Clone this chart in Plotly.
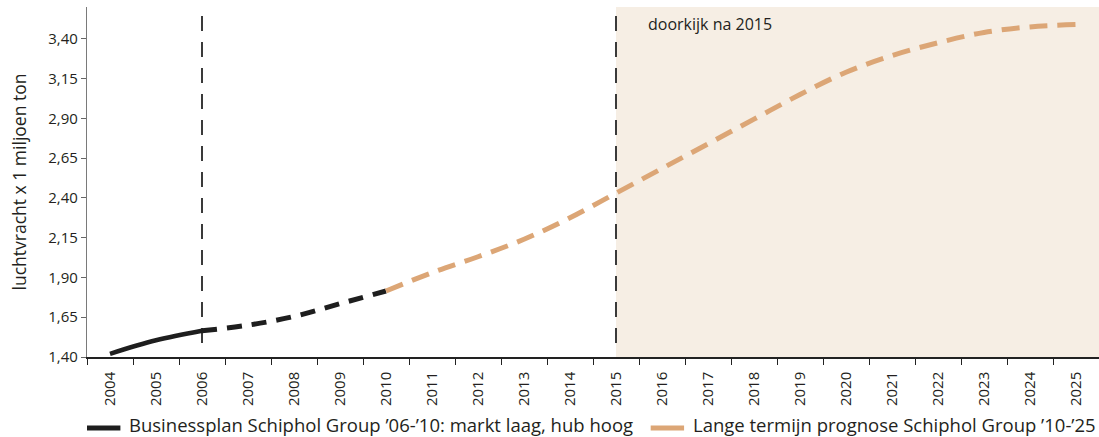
import plotly.graph_objects as go

# Air freight at Schiphol, million tonnes
years_actual = [2004, 2005, 2006]
vals_actual = [1.42, 1.505, 1.565]

years_plan = [2006, 2007, 2008, 2009, 2010]
vals_plan = [1.565, 1.60, 1.655, 1.735, 1.815]

years_long = [2010, 2011, 2012, 2013, 2014, 2015, 2016, 2017,
              2018, 2019, 2020, 2021, 2022, 2023, 2024, 2025]
vals_long = [1.815, 1.93, 2.03, 2.14, 2.275, 2.43, 2.585, 2.74,
             2.895, 3.05, 3.19, 3.295, 3.375, 3.44, 3.475, 3.49]

year_labels = [str(y) for y in range(2004, 2026)]
y_ticks = [1.40, 1.65, 1.90, 2.15, 2.40, 2.65, 2.90, 3.15, 3.40]
y_tick_text = ["1,40", "1,65", "1,90", "2,15", "2,40", "2,65", "2,90", "3,15", "3,40"]

marker_years = [2006, 2015]
outlook_start = 2015

label_plan = "Businessplan Schiphol Group ’06-’10: markt laag, hub hoog"
label_long = "Lange termijn prognose Schiphol Group ’10-’25"
label_outlook = "doorkijk na 2015"

BLACK = "#1e1e1e"
ORANGE = "#dca676"
SHADE = "#f6eee4"
TEXT = "#231f20"
FONT = "Open Sans"

fig = go.Figure()

fig.add_trace(go.Scatter(
    x=years_actual, y=vals_actual, mode="lines", line_shape="spline",
    line=dict(color=BLACK, width=4.5), showlegend=False, hoverinfo="skip"))
fig.add_trace(go.Scatter(
    x=years_plan, y=vals_plan, mode="lines", line_shape="spline",
    line=dict(color=BLACK, width=5, dash="15px,10px"),
    showlegend=False, hoverinfo="skip"))
fig.add_trace(go.Scatter(
    x=years_long, y=vals_long, mode="lines", line_shape="spline",
    line=dict(color=ORANGE, width=5, dash="18px,10px"),
    showlegend=False, hoverinfo="skip"))

x_min, x_max = 2003.5, 2025.5

# shaded outlook period
fig.add_shape(type="rect", xref="x", yref="paper",
              x0=outlook_start, x1=x_max, y0=0, y1=1,
              fillcolor=SHADE, line_width=0, layer="below")

for yr in marker_years:
    fig.add_shape(type="line", xref="x", yref="paper",
                  x0=yr, x1=yr, y0=0.04, y1=0.985,
                  line=dict(color="#3a3a3a", width=2, dash="15px,11px"),
                  layer="below")

fig.add_annotation(x=outlook_start, xref="x", xshift=30, y=0.952, yref="paper",
                   text=label_outlook, showarrow=False, xanchor="left",
                   yanchor="middle", font=dict(family=FONT, size=16, color=TEXT))

# legend row below the axis: solid key bar followed by its label
legend_items = [(label_plan, BLACK, 0.0), (label_long, ORANGE, 0.557)]
for text, color, x0 in legend_items:
    fig.add_shape(type="line", xref="paper", yref="paper",
                  x0=x0, x1=x0 + 0.033, y0=-0.203, y1=-0.203,
                  line=dict(color=color, width=5))
    fig.add_annotation(x=x0 + 0.0395, xref="paper", y=-0.193, yref="paper",
                       text=text, showarrow=False, xanchor="left",
                       yanchor="middle",
                       font=dict(family=FONT, size=18.5, color=TEXT))

fig.update_layout(
    width=1099, height=437,
    margin=dict(l=87, r=0, t=7, b=80),
    paper_bgcolor="white", plot_bgcolor="white",
    font=dict(family=FONT, color=TEXT),
    showlegend=False,
    xaxis=dict(
        range=[x_min, x_max], showgrid=False, zeroline=False, automargin=False,
        tickmode="array", tickvals=list(range(2004, 2026)), ticktext=year_labels,
        tickangle=-90, ticks="outside", ticklen=7, tickcolor="rgba(0,0,0,0)",
        tickfont=dict(family=FONT, size=15, color=TEXT),
        showline=True, linecolor="#222222", linewidth=1.5,
        minor=dict(ticks="outside", tick0=2004.5, dtick=1, ticklen=6,
                   tickcolor="#222222", tickwidth=1.3, showgrid=False),
    ),
    yaxis=dict(
        range=[1.40, 3.60], showgrid=False, zeroline=False, automargin=False,
        tickmode="array", tickvals=y_ticks, ticktext=y_tick_text,
        ticks="outside", ticklen=5, tickcolor="#666666", tickwidth=1,
        tickfont=dict(family=FONT, size=15, color=TEXT),
        showline=True, linecolor="#7a7a7a", linewidth=1.3,
        title=dict(text="luchtvracht x 1 miljoen ton",
                   font=dict(family=FONT, size=17.5, color=TEXT), standoff=17),
    ),
)

fig.write_html("out.html")
